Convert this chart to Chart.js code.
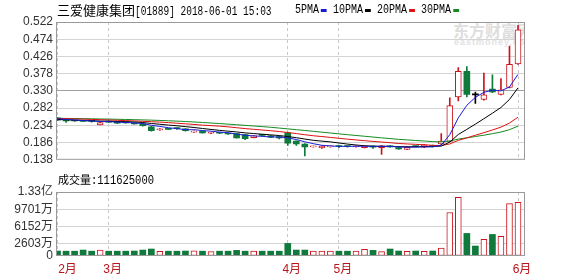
<!DOCTYPE html>
<html>
<head>
<meta charset="utf-8">
<script src="https://cdn.jsdelivr.net/npm/chart.js@4.4.0/dist/chart.umd.min.js"></script>
<style>
  html, body { margin: 0; padding: 0; background: #fff; }
  #wrap { position: relative; width: 578px; height: 276px; overflow: hidden; }
  canvas { position: absolute; left: 0; }
  #kline { top: 0; }
  #vol { top: 170px; }
  .cn { font-family: "Noto Sans CJK SC", sans-serif; }
  .asc { font-family: "Liberation Mono", monospace; font-size: 12px; display: inline-block; transform-origin: left center; }
  #title { position: absolute; left: 57px; top: 3px; font-size: 13px; line-height: 13px; color: #000; white-space: nowrap; }
  #title .asc { transform: scaleX(0.79); }
  #legend { position: absolute; left: 295px; top: 4px; display: flex; align-items: center; line-height: 12px;
            transform: scaleX(0.833); transform-origin: left top; white-space: nowrap; color: #000; }
  #legend .asc { transform: none; }
  #legend i { display: inline-block; width: 7.2px; height: 3px; margin: 1px 7.2px 0 2.4px; }
  #vtitle { position: absolute; left: 58px; top: 173px; font-size: 11px; line-height: 12px; color: #000; white-space: nowrap; }
  #vtitle .asc { transform: scaleX(0.875); }
  #wm { position: absolute; left: 420px; top: 22px; width: 105px; height: 25px; overflow: hidden; }
  #wm .t1 { position: absolute; left: 33px; top: 0; font: bold 16px/16px "Noto Sans CJK SC", sans-serif; color: #dedede; white-space: nowrap; }
  #wm .t2 { position: absolute; left: 34px; top: 15px; font: bold 9px/10px "Liberation Sans", sans-serif; color: #e2e2e2; letter-spacing: 1px; white-space: nowrap; }
</style>
</head>
<body>
<div id="wrap">
  <div id="wm"><div class="t1">东方财富网</div><div class="t2">eastmoney.com</div></div>
  <canvas id="kline" width="578" height="170"></canvas>
  <canvas id="vol" width="578" height="106"></canvas>
  <div id="title"><span class="cn">三爱健康集团</span><span class="asc">[01889] 2018-06-01 15:03</span></div>
  <div id="legend"></div>
  <div id="vtitle"><span class="cn">成交量</span><span class="asc">:111625000</span></div>
</div>
<script>
/* 三爱健康集团 01889 — 日K线 + 均线 + 成交量 */

// 交易日（只标月份）
const xLabels = [
  "2月", "", "", "", "", "",
  "3月", "", "", "", "", "", "", "", "", "", "", "", "", "", "", "", "", "", "", "", "",
  "4月", "", "", "", "", "",
  "5月", "", "", "", "", "", "", "", "", "", "", "", "", "", "", "", "", "", "", "", "",
  "6月",
];

const openP = [
  0.2553, 0.248, 0.247, 0.248, 0.246, 0.235, 0.245, 0.242, 0.242, 0.240,
  0.238, 0.230, 0.221, 0.225, 0.226, 0.224, 0.215, 0.217, 0.212, 0.214,
  0.212, 0.211, 0.208, 0.200, 0.207, 0.205, 0.203, 0.2135, 0.1905, 0.182,
  0.174, 0.171, 0.174, 0.176, 0.176, 0.174, 0.172, 0.176, 0.172, 0.176,
  0.172, 0.167, 0.176, 0.173, 0.178, 0.182, 0.189, 0.313, 0.3845, 0.319,
  0.306, 0.335, 0.320, 0.340, 0.405,
];
const highP = [
  0.256, 0.249, 0.248, 0.249, 0.247, 0.243, 0.246, 0.243, 0.243, 0.241,
  0.239, 0.231, 0.225, 0.226, 0.227, 0.225, 0.219, 0.218, 0.215, 0.215,
  0.213, 0.212, 0.209, 0.206, 0.208, 0.206, 0.204, 0.215, 0.191, 0.183,
  0.176, 0.177, 0.177, 0.178, 0.177, 0.177, 0.178, 0.177, 0.178, 0.177,
  0.173, 0.174, 0.177, 0.181, 0.179, 0.211, 0.311, 0.395, 0.398, 0.327,
  0.380, 0.375, 0.364, 0.455, 0.513,
];
const lowP = [
  0.247, 0.242, 0.245, 0.244, 0.243, 0.235, 0.242, 0.239, 0.240, 0.237,
  0.232, 0.218, 0.220, 0.222, 0.223, 0.218, 0.214, 0.212, 0.211, 0.211,
  0.209, 0.198, 0.194, 0.199, 0.204, 0.200, 0.196, 0.178, 0.178, 0.149,
  0.173, 0.170, 0.173, 0.172, 0.173, 0.173, 0.171, 0.170, 0.153, 0.173,
  0.167, 0.166, 0.174, 0.172, 0.174, 0.180, 0.188, 0.302, 0.313, 0.295,
  0.304, 0.325, 0.319, 0.338, 0.404,
];
const closeP = [
  0.2483, 0.246, 0.246, 0.245, 0.245, 0.242, 0.243, 0.240, 0.241, 0.238,
  0.233, 0.219, 0.224, 0.223, 0.225, 0.219, 0.218, 0.213, 0.214, 0.212,
  0.210, 0.199, 0.197, 0.205, 0.206, 0.201, 0.199, 0.1845, 0.182, 0.174,
  0.175, 0.1765, 0.176, 0.175, 0.175, 0.176, 0.177, 0.173, 0.177, 0.174,
  0.168, 0.173, 0.175, 0.180, 0.175, 0.190, 0.289, 0.3845, 0.3204, 0.319,
  0.319, 0.327, 0.333, 0.404, 0.500,
];

const ma5 = [
  0.2525, 0.2505, 0.2490, 0.2475, 0.2461, 0.2448, 0.2442, 0.2430, 0.2422, 0.2408,
  0.2390, 0.2342, 0.2310, 0.2274, 0.2248, 0.2220, 0.2218, 0.2196, 0.2178, 0.2152,
  0.2134, 0.2096, 0.2064, 0.2046, 0.2034, 0.2016, 0.2016, 0.1991, 0.1945, 0.1881,
  0.1829, 0.1784, 0.1767, 0.1753, 0.1755, 0.1757, 0.1758, 0.1752, 0.1756, 0.1754,
  0.1738, 0.1730, 0.1734, 0.1740, 0.1742, 0.1786, 0.2080, 0.2550, 0.2900, 0.3120,
  0.3260, 0.3320, 0.3300, 0.3410, 0.3760,
];
const ma10 = [
  0.2505, 0.2495, 0.2485, 0.2475, 0.2468, 0.2460, 0.2455, 0.2448, 0.2441, 0.2434,
  0.2419, 0.2392, 0.2370, 0.2348, 0.2328, 0.2305, 0.2280, 0.2253, 0.2226, 0.2200,
  0.2177, 0.2157, 0.2130, 0.2112, 0.2093, 0.2075, 0.2056, 0.2028, 0.1996, 0.1958,
  0.1923, 0.1900, 0.1879, 0.1849, 0.1818, 0.1793, 0.1771, 0.1760, 0.1755, 0.1755,
  0.1748, 0.1744, 0.1743, 0.1748, 0.1748, 0.1762, 0.1874, 0.2086, 0.2229, 0.2374,
  0.2525, 0.2679, 0.2837, 0.3061, 0.3386,
];
const ma20 = [
  0.2530, 0.2525, 0.2520, 0.2513, 0.2506, 0.2498, 0.2490, 0.2481, 0.2472, 0.2463,
  0.2453, 0.2442, 0.2430, 0.2416, 0.2400, 0.2383, 0.2365, 0.2346, 0.2332, 0.2317,
  0.2298, 0.2274, 0.2250, 0.2230, 0.2210, 0.2190, 0.2168, 0.2140, 0.2111, 0.2079,
  0.2050, 0.2028, 0.2004, 0.1980, 0.1955, 0.1934, 0.1913, 0.1893, 0.1875, 0.1856,
  0.1835, 0.1822, 0.1811, 0.1798, 0.1783, 0.1777, 0.1822, 0.1922, 0.1991, 0.2064,
  0.2136, 0.2211, 0.2290, 0.2404, 0.2567,
];
const ma30 = [
  0.2536, 0.2533, 0.2530, 0.2526, 0.2522, 0.2518, 0.2514, 0.2509, 0.2504, 0.2498,
  0.2492, 0.2485, 0.2477, 0.2468, 0.2458, 0.2447, 0.2434, 0.2420, 0.2405, 0.2390,
  0.2374, 0.2357, 0.2340, 0.2322, 0.2305, 0.2286, 0.2264, 0.2242, 0.2220, 0.2198,
  0.2173, 0.2150, 0.2127, 0.2103, 0.2080, 0.2058, 0.2036, 0.2014, 0.1992, 0.1971,
  0.1950, 0.1934, 0.1918, 0.1904, 0.1887, 0.1877, 0.1901, 0.1958, 0.1993, 0.2029,
  0.2065, 0.2108, 0.2153, 0.2220, 0.2318,
];

// 成交量，单位：万股
const volume = [
  1035, 1000, 1000, 1240, 1000, 1240, 1000, 1000, 1000, 1035,
  1240, 1450, 970, 1000, 1000, 1035, 1100, 1000, 900, 1000,
  1000, 1170, 1000, 1000, 1000, 1000, 1000, 2620, 1240, 1240,
  1000, 1000, 1000, 1000, 1000, 1000, 1380, 1170, 900, 1450,
  1035, 970, 1035, 970, 1035, 1660, 9040, 12215, 4690, 2070,
  3450, 4480, 4070, 10900, 11162.5,
];

const priceTicks = [0.138, 0.186, 0.234, 0.282, 0.330, 0.378, 0.426, 0.474, 0.522];
const volTicks = [0, 2603, 6152, 9701, 13300];

const maNames = ["5PMA", "10PMA", "20PMA", "30PMA"];
const maColors = ["#1b1bd6", "#000000", "#dd1111", "#168a22"];

const UP = "#c8161e", DOWN = "#0f7a3b", FLAT = "#000";
const FONT = "'Liberation Sans', 'Noto Sans CJK SC', sans-serif";
const X_MIN = -0.18, X_MAX = 54.82;

const dir = (i) => Math.sign(closeP[i] - openP[i]);
const candleColor = (i) => (dir(i) > 0 ? UP : dir(i) < 0 ? DOWN : FLAT);
const monthTicks = xLabels.map((l, i) => (l ? i : -1)).filter((i) => i >= 0);

// legend in html
document.getElementById("legend").innerHTML = maNames.map((n, k) =>
  `<span class="asc">${n}</span><i style="background:${maColors[k]}"></i>`).join("");

const frame = {
  id: "frame",
  afterDraw(chart) {
    const { ctx, chartArea: a } = chart;
    ctx.save();
    ctx.strokeStyle = "#999";
    ctx.lineWidth = 1;
    ctx.strokeRect(a.left + 0.5, a.top + 0.5, a.right - a.left - 1, a.bottom - a.top - 1);
    ctx.restore();
  },
};

function xScale(showLabels) {
  return {
    type: "linear", min: X_MIN, max: X_MAX, offset: false, bounds: "data",
    afterBuildTicks: (s) => { s.ticks = monthTicks.map((v) => ({ value: v })); },
    afterFit: (s) => { s.height = showLabels ? 20 : 0; },
    grid: { color: "#c8c8c8", drawTicks: false, offset: false },
    border: { display: false, dash: [3, 3] },
    ticks: showLabels ? {
      autoSkip: false, maxRotation: 0, padding: 6, labelOffset: 4,
      color: "#b8141b", font: { family: FONT, size: 12 },
      callback: (v) => (v === 0 ? "\u3000" : "") + xLabels[v],
    } : { display: false },
  };
}

function yScale(ticks, strong, fmtTick) {
  return {
    min: ticks[0], max: ticks[ticks.length - 1],
    afterBuildTicks: (s) => { s.ticks = ticks.map((v) => ({ value: v })); },
    afterFit: (s) => { s.width = 56; },
    grid: {
      drawTicks: false,
      color: (c) => {
        if (c.index === 0 || c.index === ticks.length - 1) return "transparent";
        return c.tick && c.tick.value === strong ? "#a0a0a0" : "#d4d4d4";
      },
    },
    border: { display: false },
    ticks: { autoSkip: false, padding: 3, color: "#333", font: { family: FONT, size: 12 }, callback: fmtTick },
  };
}

function baseOptions(scales, padBottom) {
  return {
    responsive: false, animation: false, devicePixelRatio: 1, events: [],
    layout: { padding: { top: 22, right: 53, bottom: padBottom, left: 0 } },
    plugins: { legend: { display: false }, tooltip: { enabled: false } },
    scales,
  };
}

function maLine(k, values) {
  return {
    type: "line", label: maNames[k], data: values.map((v, i) => ({ x: i, y: v })),
    borderColor: maColors[k], borderWidth: 1, pointRadius: 0, tension: 0, fill: false, order: 1,
  };
}

// K线
new Chart(document.getElementById("kline"), {
  type: "bar",
  data: {
    datasets: [
      maLine(0, ma5), maLine(1, ma10), maLine(2, ma20), maLine(3, ma30),
      {
        label: "body", data: openP.map((o, i) => ({ x: i, y: [o, closeP[i]] })),
        barThickness: 6, minBarLength: 1, grouped: false, borderSkipped: false,
        backgroundColor: openP.map((_, i) => (dir(i) > 0 ? "#fff" : candleColor(i))),
        borderColor: openP.map((_, i) => candleColor(i)),
        borderWidth: openP.map((_, i) => (dir(i) > 0 ? 1 : 0)),
        order: 2,
      },
      {
        label: "wick", data: lowP.map((l, i) => ({ x: i, y: [l, highP[i]] })),
        barThickness: 1, grouped: false, borderSkipped: false,
        backgroundColor: lowP.map((_, i) => candleColor(i)),
        order: 3,
      },
    ],
  },
  options: baseOptions({
    x: xScale(false),
    y: yScale(priceTicks, 0.330, (v) => v.toFixed(3)),
  }, 4),
  plugins: [frame],
});

// 成交量
new Chart(document.getElementById("vol"), {
  type: "bar",
  data: {
    datasets: [{
      label: "成交量", data: volume.map((v, i) => ({ x: i, y: v })),
      barThickness: 6, grouped: false, borderSkipped: false,
      backgroundColor: volume.map((_, i) => (dir(i) > 0 ? "#fff" : DOWN)),
      borderColor: volume.map((_, i) => (dir(i) > 0 ? UP : DOWN)),
      borderWidth: volume.map((_, i) => (dir(i) > 0 ? 1 : 0)),
    }],
  },
  options: baseOptions({
    x: xScale(true),
    y: yScale(volTicks, null, (v) => (v === 0 ? "0" : v >= 10000 ? (v / 10000).toFixed(2) + "亿" : v + "万")),
  }, 0),
  plugins: [frame],
});
</script>
</body>
</html>
